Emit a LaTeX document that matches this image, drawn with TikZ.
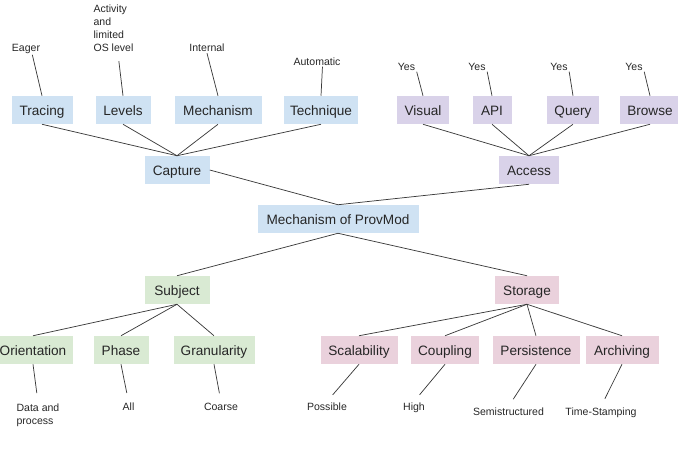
\documentclass[tikz,border=0pt]{standalone}
\usepackage{fontspec}
\setmainfont{Liberation Sans}

\definecolor{captureblue}{HTML}{CFE2F3}
\definecolor{accesspurple}{HTML}{D9D2E9}
\definecolor{subjectgreen}{HTML}{D9EAD3}
\definecolor{storagepink}{HTML}{EAD1DC}
\definecolor{edgegray}{HTML}{3A3A3A}

\tikzset{
  box/.style={inner sep=0pt, minimum height=21pt, text=black!85,
    text height=8pt, text depth=0pt,
    font=\fontsize{10.2}{12}\selectfont},
  bw/.style={minimum width=#1*0.75pt},
  capturebox/.style={box, fill=captureblue},
  accessbox/.style={box, fill=accesspurple},
  subjectbox/.style={box, fill=subjectgreen},
  storagebox/.style={box, fill=storagepink},
  valuetext/.style={inner sep=1pt, text=black!85, align=left,
    font=\fontsize{7.9}{9.75}\selectfont}
}

\begin{document}
\begin{tikzpicture}[x=0.75pt,y=-0.75pt]
      \useasboundingbox (0,0) rectangle (678,451);
      % boxes of the tree
      \path
        (42,110) node[capturebox,bw=61] (trac){Tracing}
        (123,110) node[capturebox,bw=55] (levl){Levels}
        (218,110) node[capturebox,bw=87] (mech){Mechanism}
        (321,110) node[capturebox,bw=74] (tech){Technique}
        (423,110) node[accessbox,bw=52] (visu){Visual}
        (492,110) node[accessbox,bw=39] (api){API}
        (573,110) node[accessbox,bw=52] (quer){Query}
        (650,110) node[accessbox,bw=60] (brow){Browse}
        (177,170) node[capturebox,bw=65] (capt){Capture}
        (529,170) node[accessbox,bw=60] (acce){Access}
        (338,219) node[capturebox,bw=161] (prov){Mechanism of ProvMod}
        (177,290) node[subjectbox,bw=65] (subj){Subject}
        (527,290) node[storagebox,bw=64] (stor){Storage}
        (33,350) node[subjectbox,bw=80] (orie){Orientation}
        (121,350) node[subjectbox,bw=55] (phas){Phase}
        (214,350) node[subjectbox,bw=81] (gran){Granularity}
        (359,350) node[storagebox,bw=77] (scal){Scalability}
        (445,350) node[storagebox,bw=68] (coup){Coupling}
        (536,350) node[storagebox,bw=87] (pers){Persistence}
        (622,350) node[storagebox,bw=73] (arch){Archiving};
      % values at the leaves
      \path
        (26,51) node[valuetext,anchor=base] (eager){Eager}
        (92,51.5) node[valuetext,anchor=base west] (activ){Activity\\and\\limited\\OS level}
        (207,51.5) node[valuetext,anchor=base] (internal){Internal}
        (317,65) node[valuetext,anchor=base] (autom){Automatic}
        (406.5,70) node[valuetext,anchor=base] (yes1){Yes}
        (477,70) node[valuetext,anchor=base] (yes2){Yes}
        (559,70) node[valuetext,anchor=base] (yes3){Yes}
        (634,70) node[valuetext,anchor=base] (yes4){Yes}
        (15,424) node[valuetext,anchor=base west] (dataproc){Data and\\process}
        (128.5,410.7) node[valuetext,anchor=base] (all){All}
        (221,410.7) node[valuetext,anchor=base] (coarse){Coarse}
        (327,410.7) node[valuetext,anchor=base] (possible){Possible}
        (414,410.7) node[valuetext,anchor=base] (high){High}
        (508.5,415.7) node[valuetext,anchor=base] (semi){Semistructured}
        (601,415.7) node[valuetext,anchor=base] (timest){Time-Stamping};
      \begin{scope}[-, draw=edgegray, line width=0.55pt]
        \draw (trac.south) to (capt.north);
        \draw (levl.south) to (capt.north);
        \draw (mech.south) to (capt.north);
        \draw (tech.south) to (capt.north);
        \draw (visu.south) to (acce.north);
        \draw (api.south) to (acce.north);
        \draw (quer.south) to (acce.north);
        \draw (brow.south) to (acce.north);
        \draw (capt.east) to (prov.north);
        \draw (acce.south) to (prov.north);
        \draw (prov.south) to (subj.north);
        \draw (prov.south) to (stor.north);
        \draw (subj.south) to (orie.north);
        \draw (subj.south) to (phas.north);
        \draw (subj.south) to (gran.north);
        \draw (stor.south) to (scal.north);
        \draw (stor.south) to (coup.north);
        \draw (stor.south) to (pers.north);
        \draw (stor.south) to (arch.north);
        % leaf values
        \draw (eager.-45) to (trac.north);
        \draw[shorten <=6pt] (activ.-80) to (levl.north);
        \draw (internal.south) to (mech.north);
        \draw (autom.-45) to (tech.north);
        \draw (yes1.south east) to (visu.north);
        \draw (yes2.south east) to (api.north);
        \draw (yes3.south east) to (quer.north);
        \draw (yes4.south east) to (brow.north);
        \draw[shorten >=6.5pt] (orie.south) to (dataproc.north);
        \draw[shorten >=6.5pt] (phas.south) to (all.north);
        \draw[shorten >=6.5pt] (gran.south) to (coarse.north);
        \draw[shorten >=6.5pt] (scal.south) to (possible.north);
        \draw[shorten >=6.5pt] (coup.south) to (high.north);
        \draw[shorten >=6.5pt] (pers.south) to (semi.north);
        \draw[shorten >=6.5pt] (arch.south) to (timest.north);
      \end{scope}
    \end{tikzpicture}
\end{document}
